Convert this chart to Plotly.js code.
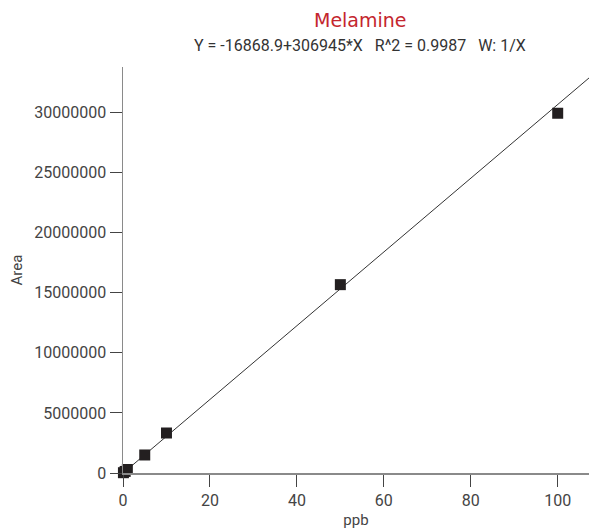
<!DOCTYPE html>
<html>
<head>
<meta charset="utf-8">
<script src="https://cdn.plot.ly/plotly-3.0.1.min.js"></script>
<style>html,body{margin:0;padding:0;background:#fff;}#chart{width:589px;height:531px;}</style>
</head>
<body>
<div id="chart"></div>
<script>
// Calibration points (ppb vs area)
var ppb = [0.1, 0.5, 1, 5, 10, 50, 100];
var area = [25000, 130000, 290000, 1500000, 3330000, 15680000, 29950000];
// Regression line from the title equation
var intercept = -16868.9;
var slope = 306945;
var fitX = [0, 110];
var fitY = fitX.map(function (x) { return intercept + slope * x; });

var titleText = 'Melamine';
var subtitleText = 'Y = -16868.9+306945*X   R^2 = 0.9987   W: 1/X';
var yTicks = [0, 5000000, 10000000, 15000000, 20000000, 25000000, 30000000];
var xTicks = [0, 20, 40, 60, 80, 100];

var font = 'Roboto, Arial, sans-serif';

var traces = [
  {x: fitX, y: fitY, mode: 'lines', line: {color: '#333', width: 1}, hoverinfo: 'skip', cliponaxis: true},
  {x: ppb, y: area, mode: 'markers', marker: {symbol: 'square', size: 11, color: '#231f20'}, cliponaxis: false}
];

var layout = {
  width: 589, height: 531,
  margin: {l: 123, r: 0, t: 67, b: 58},
  paper_bgcolor: '#fff', plot_bgcolor: '#fff',
  showlegend: false,
  font: {family: font, size: 14, color: '#333'},
  xaxis: {
    range: [0, 107.2], tickvals: xTicks, ticktext: xTicks.map(String),
    showgrid: false, zeroline: false, showline: true, linecolor: '#8a8a8a', linewidth: 1.5,
    ticks: 'outside', ticklen: 12, tickcolor: '#444', tickwidth: 1,
    tickfont: {family: font, size: 16, color: '#444'},
    title: {text: 'ppb', font: {family: font, size: 15, color: '#444'}, standoff: 6}
  },
  yaxis: {
    range: [0, 33800000], tickvals: yTicks, ticktext: yTicks.map(String),
    showgrid: false, zeroline: false, showline: true, linecolor: '#8a8a8a', linewidth: 1.5,
    ticks: 'outside', ticklen: 12, tickcolor: '#444', tickwidth: 1,
    tickfont: {family: font, size: 16, color: '#444'},
    title: {text: 'Area', font: {family: font, size: 15, color: '#444'}, standoff: 8}
  },
  annotations: [
    {text: titleText, xref: 'paper', yref: 'paper', x: 0.509, y: 1, yshift: 47, xanchor: 'center', yanchor: 'middle', showarrow: false,
     font: {family: 'DejaVu Sans, Arial, sans-serif', size: 19, color: '#c4262e'}},
    {text: subtitleText, xref: 'paper', yref: 'paper', x: 0.509, y: 1, yshift: 22, xanchor: 'center', yanchor: 'middle', showarrow: false,
     font: {family: font, size: 16, color: '#333'}}
  ]
};

Plotly.newPlot('chart', traces, layout, {displayModeBar: false, staticPlot: true});
</script>
</body>
</html>
